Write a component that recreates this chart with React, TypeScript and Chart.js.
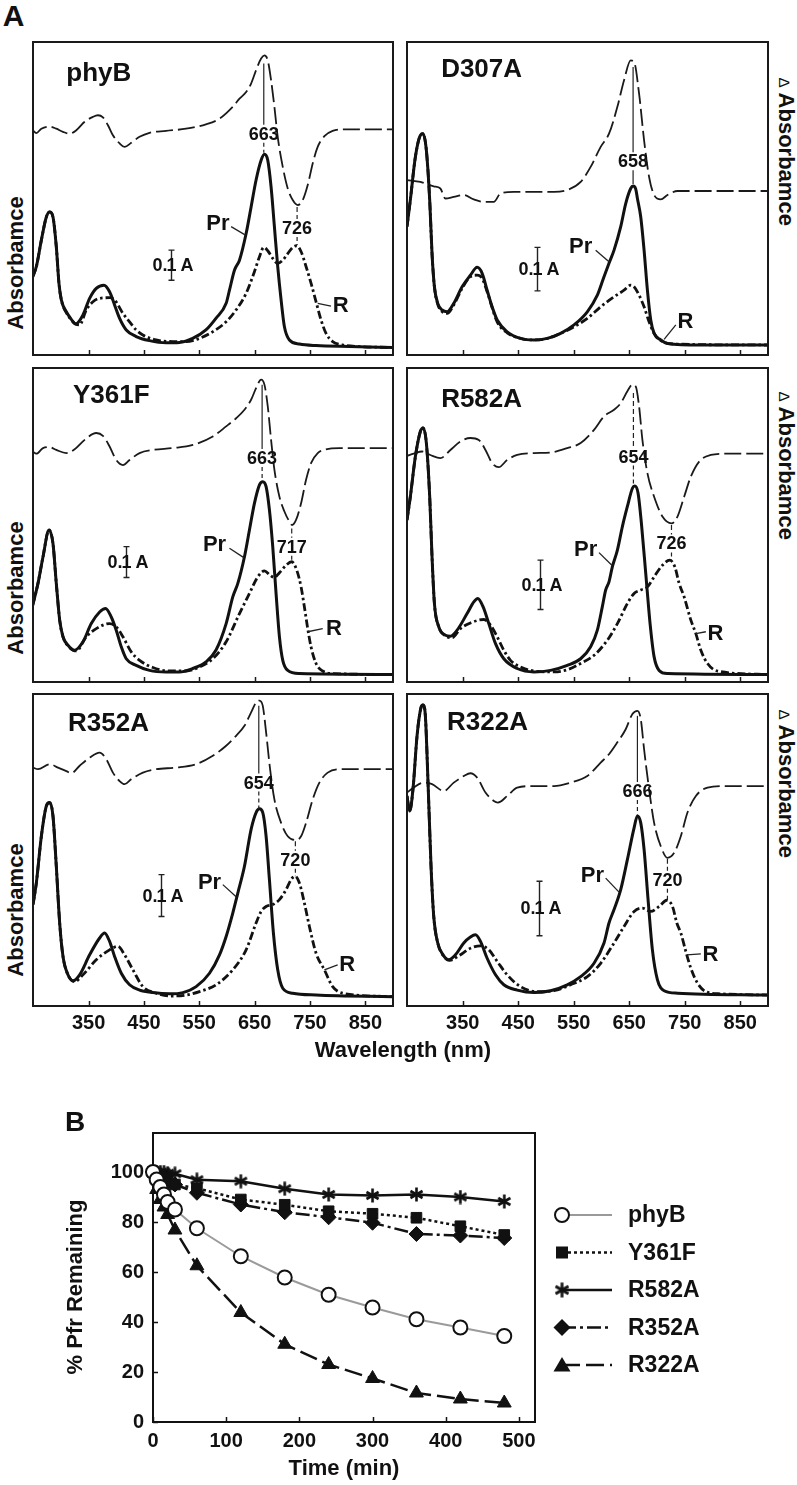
import React, { useEffect, useRef } from 'react';
import { Chart, registerables } from 'chart.js';

Chart.register(...registerables);

const FONT = '"Liberation Sans", Arial, Helvetica, sans-serif';
const INK = '#111';

type Pt = [number, number];

// ================= Panel A : spectra (y = relative absorbance, % of panel height) =================
const WL_TICKS = [350, 450, 550, 650, 750, 850];
const WL_MIN = 249.5;
const WL_MAX = 900;

const PHYB_PR: Pt[] = [[249,25.0],[255.5,28.2],[264.6,36.7],[273.6,44.1],[279.6,45.7],[285.6,44.1],[291.6,34.6],[296.4,22.9],[300.7,17.6],[309.7,13.8],[318.7,11.4],[326.5,9.9],[339.8,12.8],[351.8,18.1],[363.8,21.3],[377.7,22.3],[387.9,20.2],[396.9,16.0],[406,11.7],[418,8.0],[436,5.9],[460,4.6],[490,3.9],[514,4.0],[538,5.3],[562,8.0],[580,11.7],[598.5,16.5],[604.5,20.7],[613.5,27.1],[622.6,30.3],[634.6,38.8],[643.6,47.3],[652.6,55.9],[661.7,62.2],[667.7,64.1],[673.7,62.2],[679.7,53.7],[685.7,41.0],[691.7,28.2],[697.8,17.6],[703.8,9.0],[712.8,4.8],[731,3.5],[761,3.0],[821,2.7],[900,2.4]];
const PHYB_R: Pt[] = [[249,25.0],[255.5,28.2],[264.6,36.7],[273.6,44.1],[279.6,45.7],[285.6,44.1],[291.6,34.6],[296.4,22.9],[300.7,17.6],[309.7,13.5],[318.7,11.2],[326.5,9.9],[333.8,9.6],[345.8,14.4],[357.8,17.0],[369.9,18.1],[387.9,18.3],[396.9,17.6],[412,13.3],[424,10.6],[436,8.0],[448,6.4],[472,4.8],[502,4.3],[526,4.3],[550,5.3],[574,7.4],[598.5,10.6],[616.5,14.4],[634.6,19.7],[649.6,26.6],[658.7,31.4],[666.5,34.4],[673.7,33.3],[682.7,30.9],[691.7,29.3],[700.8,30.3],[709.8,32.4],[718.8,34.4],[726,34.9],[734,33.0],[743,28.2],[752,22.9],[761,17.0],[770,11.2],[779,6.9],[791,4.3],[809,3.2],[839,2.7],[900,2.4]];
const PHYB_DIFF: Pt[] = [[249,71.8],[255.5,70.9],[264.6,72.3],[279.6,73.0],[291.6,72.3],[303.7,71.3],[315.7,70.7],[327.7,71.8],[342.8,74.5],[357.8,76.1],[366.8,76.6],[375.9,75.9],[384.9,73.4],[393.9,70.2],[406,67.6],[415,66.5],[427,67.8],[442,69.7],[460,71.0],[490,71.6],[526,72.3],[562,73.7],[586.5,75.5],[610.5,79.3],[622.6,81.9],[634.6,84.0],[643.6,86.7],[652.6,91.0],[661.7,94.7],[667.7,95.7],[673.7,94.1],[679.7,87.8],[685.7,79.3],[691.7,69.7],[700.8,60.1],[709.8,53.2],[718.8,49.5],[727.9,47.9],[736.9,49.5],[745.9,54.3],[754.9,61.2],[763.9,66.5],[776,69.9],[791,71.6],[815,72.1],[900,72.1]];

const D307A_PR: Pt[] = [[249.5,41.0],[255.5,49.5],[264.6,63.3],[273.6,70.2],[278.4,70.7],[284.4,65.4],[290.4,49.5],[294.6,32.4],[298.9,21.8],[304.9,16.5],[312.7,14.4],[321.7,13.8],[333.8,16.5],[348.8,21.8],[363.8,25.5],[375.9,28.0],[384.9,26.1],[393.9,20.7],[402.9,15.4],[412,11.2],[430,7.4],[454.1,5.3],[478.2,4.8],[502.2,5.3],[526.3,6.9],[550.4,9.6],[574.4,13.8],[592.5,19.1],[604.5,25.0],[613.5,29.3],[622.6,33.5],[634.6,41.0],[643.6,48.4],[652.6,53.2],[656.9,54.0],[661.7,53.0],[664.7,50.0],[670.7,44.1],[676.7,33.5],[682.7,20.7],[688.7,11.2],[694.8,6.9],[706.8,4.8],[718.8,3.7],[779,3.2],[900,3.2]];
const D307A_R: Pt[] = [[249.5,41.0],[255.5,49.5],[264.6,63.3],[273.6,70.2],[278.4,70.7],[284.4,65.4],[290.4,49.5],[294.6,32.4],[298.9,21.8],[304.9,16.2],[312.7,13.9],[321.7,13.3],[333.8,16.0],[348.8,21.3],[363.8,25.0],[375.9,25.5],[384.9,24.5],[393.9,20.2],[412,10.6],[430,7.1],[454.1,5.3],[478.2,4.8],[502.2,5.3],[526.3,6.9],[550.4,9.0],[574.4,11.7],[598.5,15.4],[622.6,18.6],[640.6,20.7],[652.6,22.3],[658.7,21.8],[667.7,19.1],[676.7,15.4],[685.7,10.6],[694.8,6.9],[706.8,4.6],[731,3.5],[900,3.2]];
const D307A_DIFF: Pt[] = [[249.5,55.9],[273.6,55.3],[297.7,53.9],[309.7,53.2],[318.7,50.0],[333.8,50.5],[351.8,51.1],[369.9,49.7],[387.9,48.9],[406,48.9],[418,51.6],[442.1,52.1],[478.2,52.1],[514.3,52.1],[538.3,52.7],[562.4,55.3],[580.4,60.1],[598.5,66.5],[613.5,70.7],[628.6,79.3],[640.6,87.8],[652.6,94.1],[658.7,93.6],[667.7,83.5],[676.7,68.6],[685.7,56.9],[694.8,51.1],[706.8,49.7],[718.8,51.1],[736.9,52.4],[900,52.4]];

const Y361F_PR: Pt[] = [[249,24.5],[258.5,31.4],[267.6,39.9],[278.4,48.4],[285.6,44.1],[291.6,31.4],[297.7,19.7],[303.7,14.4],[312.7,11.7],[324.7,10.1],[339.8,12.8],[354.8,18.6],[369.9,22.3],[380.7,23.4],[390.9,20.7],[399.9,16.5],[409,11.2],[418,7.4],[436,5.3],[460,3.7],[490,3.2],[514,3.2],[538,4.3],[562,6.4],[580,10.1],[598.5,18.6],[610.5,27.1],[619.6,31.4],[631.6,39.9],[640.6,48.4],[649.6,56.9],[658.7,62.8],[664.7,63.8],[670.7,62.2],[676.7,54.8],[682.7,43.1],[688.7,28.2],[694.8,14.4],[700.8,6.9],[709.8,3.7],[731,2.7],[900,2.4]];
const Y361F_R: Pt[] = [[249,24.5],[258.5,31.4],[267.6,39.9],[278.4,48.4],[285.6,44.1],[291.6,31.4],[297.7,19.7],[303.7,14.4],[312.7,11.5],[327.7,9.9],[345.8,14.4],[363.8,17.0],[387.9,18.6],[399.9,17.6],[412,14.4],[427,9.6],[442.1,6.9],[466.1,4.6],[496.2,3.5],[526.3,3.5],[550.4,4.8],[574.4,7.4],[598.5,12.8],[622.6,21.8],[640.6,28.2],[655.7,33.5],[667.7,35.4],[677.9,34.0],[685.7,33.3],[694.8,34.8],[706.8,37.2],[717,38.3],[726.1,35.6],[733.9,30.3],[739.9,23.9],[745.9,17.0],[751.9,11.2],[761,5.9],[773,3.5],[791,2.7],[900,2.4]];
const Y361F_DIFF: Pt[] = [[249,73.4],[255.5,72.7],[267.6,74.5],[279.6,74.8],[291.6,73.9],[309.7,72.9],[324.7,74.1],[342.8,77.1],[363.8,79.3],[375.9,78.4],[387.9,75.0],[399.9,70.7],[412,69.1],[424,70.7],[442.1,72.9],[466.1,73.9],[502.2,74.5],[538.3,75.5],[574.4,78.2],[598.5,81.4],[616.5,84.0],[631.6,86.7],[643.6,89.9],[652.6,93.6],[661.7,96.3],[667.7,94.7],[673.7,87.8],[679.7,77.1],[685.7,67.6],[694.8,59.0],[703.8,54.3],[712.8,51.1],[717.6,50.0],[724.8,51.6],[733.9,56.9],[742.9,64.4],[751.9,69.7],[764,72.9],[779,74.1],[803.1,74.5],[900,74.5]];

const R582A_PR: Pt[] = [[249.5,51.6],[255.5,59.0],[264.6,71.8],[273.6,79.8],[278.4,80.9],[284.4,76.1],[290.4,59.0],[294.6,39.9],[298.9,25.0],[306.7,17.6],[318.7,14.9],[327.7,14.6],[339.8,16.5],[357.8,21.8],[369.9,25.5],[377.1,26.6],[386.7,23.9],[396.9,18.6],[409,12.2],[424,7.4],[448.1,4.3],[478.2,3.2],[508.2,3.7],[538.3,5.3],[562.4,7.4],[580.4,11.2],[592.5,16.5],[601.5,24.0],[607.5,29.3],[613.5,31.9],[619.5,36.7],[628.6,42.0],[637.6,49.5],[646.6,55.9],[655.7,61.7],[659.9,62.4],[665.9,60.1],[671.9,50.5],[679.7,34.6],[687.5,18.6],[694.8,8.0],[703.8,3.7],[718.8,2.7],[900,2.4]];
const R582A_R: Pt[] = [[249.5,51.6],[255.5,59.0],[264.6,71.8],[273.6,79.8],[278.4,80.9],[284.4,76.1],[290.4,59.0],[294.6,39.9],[298.9,25.0],[306.7,17.6],[318.7,14.7],[330.7,14.1],[345.8,17.0],[363.8,18.8],[387.9,19.9],[399.9,18.1],[412,14.4],[424,10.1],[436,6.9],[454.1,4.8],[478.2,3.5],[514.3,3.2],[538.3,3.9],[562.4,5.9],[586.5,8.5],[610.5,13.3],[628.6,18.6],[646.6,25.0],[658.7,28.2],[670.7,29.3],[682.7,30.3],[694.8,33.5],[709.8,37.2],[723,38.8],[732.1,36.7],[739.9,31.4],[748.9,27.1],[761,19.7],[770,15.4],[779,10.1],[791,5.9],[809.1,3.5],[900,2.4]];
const R582A_DIFF: Pt[] = [[249.5,72.0],[261.6,72.7],[276.6,73.4],[291.6,72.3],[309.7,71.3],[327.7,73.9],[345.8,76.6],[363.8,77.7],[378.9,77.1],[390.9,73.9],[402.9,69.7],[415,68.4],[430,70.7],[448.1,72.3],[478.2,72.9],[508.2,73.1],[538.3,74.5],[562.4,76.1],[586.5,80.3],[604.5,84.6],[622.6,86.7],[634.6,88.8],[646.6,92.6],[655.7,94.7],[661.7,94.1],[667.7,87.8],[673.7,77.1],[682.7,66.5],[694.8,59.0],[709.8,52.7],[726.1,50.5],[736.9,52.7],[748.9,59.0],[761,65.4],[776,70.2],[797,72.3],[821,72.7],[900,72.7]];

const R352A_PR: Pt[] = [[249.5,32.5],[255.5,39.4],[264.6,54.4],[273.6,64.1],[279.6,65.2],[285.6,60.9],[291.6,44.8],[297.7,26.6],[303.7,15.9],[312.7,10.0],[321.7,8.1],[333.8,10.0],[351.8,16.4],[369.9,21.8],[378.9,23.4],[387.9,20.7],[396.9,15.9],[409,10.5],[424,6.8],[442.1,5.1],[466.1,4.3],[496.2,3.9],[520.3,4.3],[544.3,6.2],[568.4,10.5],[586.5,16.4],[598.5,22.3],[610.5,29.8],[619.6,36.2],[631.6,44.8],[643.6,56.6],[652.6,62.0],[658.7,63.2],[664.7,62.0],[670.7,54.4],[676.7,40.5],[683.9,23.4],[691.7,11.6],[700.8,5.7],[718.8,4.1],[761,3.5],[900,3.0]];
const R352A_R: Pt[] = [[249.5,32.5],[255.5,39.4],[264.6,54.4],[273.6,64.1],[279.6,65.2],[285.6,60.9],[291.6,44.8],[297.7,26.6],[303.7,15.9],[312.7,10.0],[324.7,7.8],[339.8,10.0],[363.8,14.8],[387.9,18.0],[402.9,19.1],[415,16.4],[430,11.6],[448.1,6.2],[472.1,4.1],[496.2,3.2],[526.3,3.5],[550.4,4.6],[580.4,6.8],[610.5,11.6],[634.6,18.0],[652.6,26.6],[661.7,30.3],[670.7,31.9],[682.7,32.5],[694.8,34.1],[706.8,37.3],[715.8,40.5],[723,41.6],[730.9,39.4],[739.9,33.0],[748.9,25.5],[761,16.9],[776,11.6],[791,6.2],[809.1,4.1],[900,3.0]];
const R352A_DIFF: Pt[] = [[249.5,76.4],[258.5,75.9],[279.6,77.5],[294.6,76.4],[309.7,75.3],[318.7,74.6],[333.8,77.0],[351.8,79.6],[369.9,81.2],[381.9,79.1],[393.9,74.8],[406,72.1],[415,71.1],[427,72.7],[448.1,74.8],[472.1,75.9],[508.2,76.4],[544.3,77.5],[574.4,80.2],[598.5,83.4],[616.5,86.6],[631.6,89.8],[643.6,94.1],[652.6,97.3],[658.7,97.9],[664.7,96.2],[670.7,87.7],[677.9,75.9],[685.7,66.2],[697.8,58.7],[709.8,54.4],[723.6,53.2],[733.9,54.4],[742.9,58.7],[754.9,66.2],[767,71.6],[782,74.8],[803.1,75.9],[900,75.9]];

const R322A_PR: Pt[] = [[249.5,67.3],[254.3,62.5],[260.3,69.5],[267.6,86.6],[274.8,95.7],[278.4,96.5],[282.6,93.0],[287.4,71.6],[292.8,44.8],[297.7,28.7],[304.9,20.2],[314.5,16.4],[324.7,14.8],[336.8,16.4],[351.8,20.2],[363.8,22.1],[372.9,22.8],[381.9,20.7],[393.9,15.3],[409,10.0],[424,6.8],[448.1,5.1],[478.2,4.3],[508.2,4.9],[538.3,6.8],[562.4,9.4],[586.5,13.7],[604.5,20.2],[613.5,26.6],[622.6,30.9],[634.6,37.3],[646.6,46.9],[658.7,57.1],[664.7,60.9],[670.7,58.7],[676.7,50.2],[683.9,34.1],[691.7,18.0],[700.8,8.4],[712.8,4.9],[736.9,4.1],[900,3.5]];
const R322A_R: Pt[] = [[249.5,67.3],[254.3,62.5],[260.3,69.5],[267.6,86.6],[274.8,95.7],[278.4,96.5],[282.6,93.0],[287.4,71.6],[292.8,44.8],[297.7,28.7],[304.9,20.2],[314.5,16.2],[326.5,14.6],[342.8,16.1],[363.8,18.5],[381.9,19.3],[396.9,18.0],[412,14.3],[430,10.0],[454.1,6.2],[484.2,4.6],[514.3,4.9],[544.3,6.8],[574.4,9.4],[598.5,13.7],[622.6,20.2],[640.6,25.5],[658.7,30.3],[673.7,31.4],[688.7,30.3],[703.8,31.9],[717.6,33.9],[727.9,31.9],[735.7,26.6],[742.9,23.4],[751.9,17.5],[761,12.1],[773,7.3],[788,4.6],[815.1,3.9],[900,3.5]];
const R322A_DIFF: Pt[] = [[249.5,68.4],[261.6,70.0],[279.6,71.6],[294.6,71.1],[315.7,68.9],[333.8,71.6],[351.8,73.7],[363.8,74.6],[375.9,73.2],[390.9,68.4],[406,65.7],[413.2,65.2],[430,67.3],[448.1,70.0],[478.2,70.5],[514.3,70.5],[544.3,71.6],[574.4,73.7],[598.5,78.0],[613.5,80.7],[628.6,84.5],[643.6,88.7],[655.7,93.6],[664.7,94.6],[670.7,92.0],[676.7,82.3],[685.7,69.5],[694.8,58.7],[706.8,51.2],[718.8,47.5],[730.9,49.1],[742.9,54.4],[754.9,62.0],[770,67.3],[791,70.0],[821,70.5],[900,70.5]];

// annotations (data coordinates: wavelength, relative absorbance)
const PHYB_ANN = { name: 'phyB', nameAt: [309.7, 89.9], peak: { x: 666.5, top: 93.1, at: 70.7, bottom: 64.6, text: '663', upperDash: false, lowerDash: true }, trough: { x: 726.7, top: 47.3, at: 40.6, bottom: 35.1, text: '726' }, prAt: [604.5, 42.0], prLine: [[607.5, 41.0], [633.4, 38.3]], rAt: [791, 15.6], rLine: [[764, 16.5], [788, 15.6]], bar: { x: 498, y1: 33.5, y2: 23.9 } };
const D307A_ANN = { name: 'D307A', nameAt: [311, 91.0], peak: { x: 656.9, top: 92.0, at: 61.9, bottom: 54.6, text: '658', upperDash: false, lowerDash: false }, trough: null, prAt: [583.5, 34.6], prLine: [[589.5, 33.5], [613.5, 29.8]], rAt: [736.9, 10.6], rLine: [[712.8, 5.0], [733.9, 9.6]], bar: { x: 483, y1: 34.4, y2: 20.5 } };
const Y361F_ANN = { name: 'Y361F', nameAt: [321.7, 91.0], peak: { x: 663.5, top: 94.7, at: 71.3, bottom: 64.1, text: '663', upperDash: false, lowerDash: true }, trough: { x: 717, top: 48.9, at: 43.1, bottom: 38.6, text: '717' }, prAt: [598.5, 43.6], prLine: [[604.5, 42.6], [630.4, 39.6]], rAt: [779, 17.0], rLine: [[745.9, 16.0], [773, 17.0]], bar: { x: 416.8, y1: 43.1, y2: 33.3 } };
const R582A_ANN = { name: 'R582A', nameAt: [311, 89.9], peak: { x: 657.5, top: 92.0, at: 71.8, bottom: 62.8, text: '654', upperDash: true, lowerDash: true }, trough: { x: 726.1, top: 50.0, at: 44.1, bottom: 39.0, text: '726' }, prAt: [592.5, 42.0], prLine: [[595.5, 41.2], [619.5, 37.0]], rAt: [791, 15.4], rLine: [[770, 15.4], [788, 16.0]], bar: { x: 489, y1: 38.8, y2: 23.1 } };
const R352A_ANN = { name: 'R352A', nameAt: [312.7, 90.4], peak: { x: 657.5, top: 96.2, at: 71.6, bottom: 63.2, text: '654', upperDash: false, lowerDash: true }, trough: { x: 723.6, top: 52.8, at: 46.9, bottom: 41.6, text: '720' }, prAt: [589.5, 39.4], prLine: [[592.5, 38.9], [616.5, 35.0]], rAt: [803.1, 13.2], rLine: [[776, 11.6], [800, 13.2]], bar: { x: 481.2, y1: 42.1, y2: 28.7 } };
const R322A_ANN = { name: 'R322A', nameAt: [321.7, 90.9], peak: { x: 664.7, top: 93.0, at: 68.9, bottom: 61.4, text: '666', upperDash: false, lowerDash: true }, trough: { x: 718.8, top: 47.2, at: 40.5, bottom: 33.9, text: '720' }, prAt: [604.5, 41.6], prLine: [[607.5, 41.0], [631.6, 36.5]], rAt: [782, 16.4], rLine: [[753.7, 16.4], [779, 16.7]], bar: { x: 487.2, y1: 40.0, y2: 22.5 } };

const PANELS = [
  { key: 'phyB', box: { l: 33, t: 42, r: 393, b: 355 }, pr: PHYB_PR, rr: PHYB_R, diff: PHYB_DIFF, ann: PHYB_ANN, labels: false },
  { key: 'D307A', box: { l: 407, t: 42, r: 768, b: 355 }, pr: D307A_PR, rr: D307A_R, diff: D307A_DIFF, ann: D307A_ANN, labels: false },
  { key: 'Y361F', box: { l: 33, t: 368, r: 393, b: 682 }, pr: Y361F_PR, rr: Y361F_R, diff: Y361F_DIFF, ann: Y361F_ANN, labels: false },
  { key: 'R582A', box: { l: 407, t: 368, r: 768, b: 682 }, pr: R582A_PR, rr: R582A_R, diff: R582A_DIFF, ann: R582A_ANN, labels: false },
  { key: 'R352A', box: { l: 33, t: 694, r: 393, b: 1006 }, pr: R352A_PR, rr: R352A_R, diff: R352A_DIFF, ann: R352A_ANN, labels: true },
  { key: 'R322A', box: { l: 407, t: 694, r: 768, b: 1006 }, pr: R322A_PR, rr: R322A_R, diff: R322A_DIFF, ann: R322A_ANN, labels: true },
];

// ================= Panel B : Pfr dark reversion =================
const TIME_MIN = [0, 5, 10, 15, 20, 30, 60, 120, 180, 240, 300, 360, 420, 480];
const PHYB_PFR = [100, 97, 94, 91, 88, 85, 77.5, 66.3, 57.8, 50.9, 45.8, 41.1, 37.8, 34.4];
const Y361F_PFR = [100, 99, 98, 97, 96, 95, 93.5, 89, 86.9, 84.3, 83.3, 81.7, 78.3, 74.8];
const R582A_PFR = [100, 100, 100, 100, 99.5, 99.3, 96.9, 96.3, 93.3, 91, 90.6, 91, 90, 88.2];
const R352A_PFR = [100, 99, 98, 97, 96, 95, 91.7, 87, 83.9, 81.9, 79.7, 75.2, 74.6, 73.6];
const R322A_PFR = [100, 93, 89, 86, 83, 76.8, 62.5, 43.8, 31.1, 23, 17.4, 11.6, 9.2, 7.6];
const TIME_TICKS = [0, 100, 200, 300, 400, 500];
const PFR_TICKS = [0, 20, 40, 60, 80, 100];
const SERIES_NAMES = ['phyB', 'Y361F', 'R582A', 'R352A', 'R322A'];

const toXY = (pts: Pt[]) => pts.map(([x, y]) => ({ x, y }));

function makePanelPlugin(ann: any, showLabels: boolean) {
  return {
    id: 'panelDeco',
    afterDatasetsDraw(chart: any) {
      const { ctx, chartArea: ca } = chart;
      const xs = chart.scales.x;
      const ys = chart.scales.y;
      const X = (v: number) => xs.getPixelForValue(v);
      const Y = (v: number) => ys.getPixelForValue(v);
      ctx.save();
      ctx.setLineDash([]);
      ctx.strokeStyle = '#1a1a1a';
      ctx.lineWidth = 2;
      ctx.strokeRect(ca.left, ca.top, ca.right - ca.left, ca.bottom - ca.top);
      ctx.lineWidth = 1.5;
      for (const t of WL_TICKS) {
        const px = Math.round(X(t)) + 0.5;
        ctx.beginPath();
        ctx.moveTo(px, ca.bottom);
        ctx.lineTo(px, ca.bottom - 5);
        ctx.stroke();
      }
      ctx.fillStyle = INK;
      if (showLabels) {
        ctx.font = `bold 20px ${FONT}`;
        ctx.textAlign = 'center';
        ctx.textBaseline = 'middle';
        for (const t of WL_TICKS) ctx.fillText(String(t), X(t), ca.bottom + 17);
      }
      // sample name
      ctx.font = `bold 26px ${FONT}`;
      ctx.textAlign = 'left';
      ctx.textBaseline = 'middle';
      ctx.fillText(ann.name, X(ann.nameAt[0]), Y(ann.nameAt[1]));

      const seg = (x: number, y1: number, y2: number, dash: number[]) => {
        if (y2 <= y1) return;
        ctx.setLineDash(dash);
        ctx.beginPath();
        ctx.moveTo(x, y1);
        ctx.lineTo(x, y2);
        ctx.stroke();
      };
      const marker = (m: any, upperDash: boolean, lowerDash: boolean) => {
        const px = X(m.x);
        const ly = Y(m.at);
        ctx.strokeStyle = '#222';
        ctx.lineWidth = 1.2;
        seg(px, Y(m.top), ly - 9, upperDash ? [5, 3] : []);
        seg(px, ly + 9, Y(m.bottom), lowerDash ? [4, 3] : []);
        ctx.setLineDash([]);
        ctx.font = `bold 18px ${FONT}`;
        ctx.textAlign = 'center';
        ctx.textBaseline = 'middle';
        ctx.fillText(m.text, px, ly + 1);
      };
      marker(ann.peak, ann.peak.upperDash, ann.peak.lowerDash);
      if (ann.trough) marker(ann.trough, true, true);

      // Pr / R labels with leader lines
      ctx.setLineDash([]);
      ctx.lineWidth = 1.3;
      ctx.strokeStyle = '#222';
      const leader = (l: number[][]) => {
        ctx.beginPath();
        ctx.moveTo(X(l[0][0]), Y(l[0][1]));
        ctx.lineTo(X(l[1][0]), Y(l[1][1]));
        ctx.stroke();
      };
      leader(ann.prLine);
      leader(ann.rLine);
      ctx.font = `bold 22px ${FONT}`;
      ctx.textBaseline = 'middle';
      ctx.textAlign = 'right';
      ctx.fillText('Pr', X(ann.prAt[0]), Y(ann.prAt[1]));
      ctx.textAlign = 'left';
      ctx.fillText('R', X(ann.rAt[0]), Y(ann.rAt[1]));

      // 0.1 A scale bar
      const bx = Math.round(X(ann.bar.x)) + 0.5;
      const b1 = Y(ann.bar.y1);
      const b2 = Y(ann.bar.y2);
      ctx.lineWidth = 1.4;
      ctx.beginPath();
      ctx.moveTo(bx, b1); ctx.lineTo(bx, b2);
      ctx.moveTo(bx - 3, b1); ctx.lineTo(bx + 3, b1);
      ctx.moveTo(bx - 3, b2); ctx.lineTo(bx + 3, b2);
      ctx.stroke();
      const my = (b1 + b2) / 2;
      ctx.font = `bold 18px ${FONT}`;
      ctx.textBaseline = 'middle';
      ctx.textAlign = 'right';
      ctx.fillText('0.', bx - 4, my + 1);
      ctx.textAlign = 'center';
      ctx.fillText('1', bx, my + 1);
      ctx.textAlign = 'left';
      ctx.fillText('A', bx + 9, my + 1);
      ctx.restore();
    },
  };
}

function SpectrumPanel({ cfg }: { cfg: any }) {
  const ref = useRef<HTMLCanvasElement>(null);
  const M = 4;
  const extra = cfg.labels ? 32 : 0;
  const w = cfg.box.r - cfg.box.l + 2 * M;
  const h = cfg.box.b - cfg.box.t + 2 * M + extra;
  useEffect(() => {
    const chart = new Chart(ref.current as HTMLCanvasElement, {
      type: 'line',
      data: {
        datasets: [
          { label: 'Pr', data: toXY(cfg.pr), borderColor: INK, borderWidth: 3, pointRadius: 0, cubicInterpolationMode: 'monotone', fill: false, order: 0 },
          { label: 'R', data: toXY(cfg.rr), borderColor: INK, borderWidth: 2.8, borderDash: [8, 3, 2.5, 3], pointRadius: 0, cubicInterpolationMode: 'monotone', fill: false, order: 1 },
          { label: 'ΔA', data: toXY(cfg.diff), borderColor: '#1a1a1a', borderWidth: 1.8, borderDash: [17, 5], pointRadius: 0, cubicInterpolationMode: 'monotone', fill: false, order: 2 },
        ],
      } as any,
      options: {
        animation: false,
        responsive: false,
        devicePixelRatio: 1,
        events: [],
        layout: { padding: { left: M, right: M, top: M, bottom: M + extra } },
        plugins: { legend: { display: false }, tooltip: { enabled: false } },
        scales: {
          x: { type: 'linear', min: WL_MIN, max: WL_MAX, display: false },
          y: { type: 'linear', min: 0, max: 100, display: false },
        },
      } as any,
      plugins: [makePanelPlugin(cfg.ann, cfg.labels)],
    });
    return () => chart.destroy();
  }, []);
  return (
    <canvas
      ref={ref}
      width={w}
      height={h}
      style={{ position: 'absolute', left: cfg.box.l - M, top: cfg.box.t - M, width: w, height: h }}
    />
  );
}

function makeAsterisk(size: number, lw: number) {
  const c = document.createElement('canvas');
  c.width = size;
  c.height = size;
  const g = c.getContext('2d') as CanvasRenderingContext2D;
  g.strokeStyle = INK;
  g.lineWidth = lw;
  const r = size / 2 - 0.5;
  const cx = size / 2;
  for (const a of [90, 30, 150]) {
    const rad = (a * Math.PI) / 180;
    g.beginPath();
    g.moveTo(cx + r * Math.cos(rad), cx - r * Math.sin(rad));
    g.lineTo(cx - r * Math.cos(rad), cx + r * Math.sin(rad));
    g.stroke();
  }
  return c;
}

const B_CANVAS = { left: 0, top: 1095, width: 797, height: 390 };
const B_AREA = { left: 153, right: 535, top: 1133, bottom: 1422 };

function DecayChart() {
  const ref = useRef<HTMLCanvasElement>(null);
  useEffect(() => {
    const star = makeAsterisk(15, 2.6);
    const mk = (vals: number[]) => TIME_MIN.map((t, i) => ({ x: t, y: vals[i] }));
    const bPlugin = {
      id: 'bDeco',
      beforeDatasetsDraw(chart: any) {
        const { ctx, chartArea: ca } = chart;
        const xs = chart.scales.x;
        const ys = chart.scales.y;
        ctx.save();
        ctx.strokeStyle = '#111';
        ctx.lineWidth = 2;
        ctx.setLineDash([]);
        ctx.strokeRect(ca.left, ca.top, ca.right - ca.left, ca.bottom - ca.top);
        ctx.lineWidth = 1.5;
        for (const t of TIME_TICKS) {
          const px = Math.round(xs.getPixelForValue(t)) + 0.5;
          ctx.beginPath(); ctx.moveTo(px, ca.bottom); ctx.lineTo(px, ca.bottom - 5); ctx.stroke();
        }
        for (const v of PFR_TICKS) {
          const py = Math.round(ys.getPixelForValue(v)) + 0.5;
          ctx.beginPath(); ctx.moveTo(ca.left, py); ctx.lineTo(ca.left + 5, py); ctx.stroke();
        }
        ctx.restore();
      },
      afterDraw(chart: any) {
        const { ctx } = chart;
        ctx.save();
        ctx.fillStyle = INK;
        ctx.font = `bold 22px ${FONT}`;
        ctx.textAlign = 'center';
        ctx.textBaseline = 'middle';
        ctx.fillText('Time (min)', 344, 1469 - B_CANVAS.top);
        ctx.save();
        ctx.translate(76, 1287 - B_CANVAS.top);
        ctx.rotate(-Math.PI / 2);
        ctx.fillText('% Pfr Remaining', 0, 0);
        ctx.restore();
        // legend
        const ds = chart.data.datasets;
        for (let i = 0; i < ds.length; i++) {
          const d = ds[i];
          const y = 1215 + i * 37.5 - B_CANVAS.top;
          const mx = 562;
          ctx.strokeStyle = d.borderColor;
          ctx.lineWidth = d.borderWidth;
          ctx.setLineDash(d.borderDash || []);
          ctx.beginPath();
          ctx.moveTo(mx, y);
          ctx.lineTo(612, y);
          ctx.stroke();
          ctx.setLineDash([]);
          ctx.fillStyle = INK;
          ctx.strokeStyle = INK;
          const st = d.pointStyle;
          if (st === 'circle') {
            ctx.beginPath(); ctx.arc(mx, y, 7, 0, Math.PI * 2);
            ctx.fillStyle = '#fff'; ctx.fill(); ctx.lineWidth = 2; ctx.stroke();
          } else if (st === 'rect') {
            ctx.fillRect(mx - 6, y - 6, 12, 12);
          } else if (st === 'rectRot') {
            ctx.beginPath(); ctx.moveTo(mx, y - 8.5); ctx.lineTo(mx + 8.5, y); ctx.lineTo(mx, y + 8.5); ctx.lineTo(mx - 8.5, y); ctx.closePath(); ctx.fill();
          } else if (st === 'triangle') {
            ctx.beginPath(); ctx.moveTo(mx, y - 8); ctx.lineTo(mx + 8.5, y + 6.5); ctx.lineTo(mx - 8.5, y + 6.5); ctx.closePath(); ctx.fill();
          } else {
            ctx.drawImage(star, mx - 8, y - 8, 16, 16);
          }
          ctx.fillStyle = INK;
          ctx.font = `bold 23px ${FONT}`;
          ctx.textAlign = 'left';
          ctx.textBaseline = 'middle';
          ctx.fillText(d.label, 628, y + 1);
        }
        ctx.restore();
      },
    };
    const chart = new Chart(ref.current as HTMLCanvasElement, {
      type: 'line',
      data: {
        datasets: [
          { label: SERIES_NAMES[0], data: mk(PHYB_PFR), borderColor: '#9a9a9a', borderWidth: 2, pointStyle: 'circle', pointRadius: 7, pointBackgroundColor: '#fff', pointBorderColor: INK, pointBorderWidth: 2, tension: 0, clip: false },
          { label: SERIES_NAMES[1], data: mk(Y361F_PFR), borderColor: INK, borderWidth: 2.5, borderDash: [3, 3], pointStyle: 'rect', pointRadius: 7.5, pointBackgroundColor: INK, pointBorderColor: INK, pointBorderWidth: 1, tension: 0, clip: false },
          { label: SERIES_NAMES[2], data: mk(R582A_PFR), borderColor: INK, borderWidth: 2.5, pointStyle: star, pointRadius: 7, tension: 0, clip: false },
          { label: SERIES_NAMES[3], data: mk(R352A_PFR), borderColor: INK, borderWidth: 2.5, borderDash: [14, 4, 3, 4], pointStyle: 'rectRot', pointRadius: 7.5, pointBackgroundColor: INK, pointBorderColor: INK, pointBorderWidth: 1, tension: 0, clip: false },
          { label: SERIES_NAMES[4], data: mk(R322A_PFR), borderColor: INK, borderWidth: 2.5, borderDash: [18, 6], pointStyle: 'triangle', pointRadius: 8, pointBackgroundColor: INK, pointBorderColor: INK, pointBorderWidth: 1, tension: 0, clip: false },
        ],
      } as any,
      options: {
        animation: false,
        responsive: false,
        devicePixelRatio: 1,
        events: [],
        layout: { padding: { left: 0, top: B_AREA.top - B_CANVAS.top, right: B_CANVAS.width - B_AREA.right, bottom: 0 } },
        plugins: { legend: { display: false }, tooltip: { enabled: false } },
        scales: {
          x: {
            type: 'linear', min: 0, max: 522,
            grid: { display: false, drawTicks: false },
            border: { display: false },
            ticks: { color: INK, font: { family: FONT, size: 20, weight: 'bold' }, padding: 7, maxRotation: 0 },
            afterBuildTicks: (s: any) => { s.ticks = TIME_TICKS.map((v) => ({ value: v })); },
            afterFit: (s: any) => { s.height = B_CANVAS.top + B_CANVAS.height - B_AREA.bottom; },
          },
          y: {
            type: 'linear', min: 0, max: 115.6,
            grid: { display: false, drawTicks: false },
            border: { display: false },
            ticks: { color: INK, font: { family: FONT, size: 20, weight: 'bold' }, padding: 9 },
            afterBuildTicks: (s: any) => { s.ticks = PFR_TICKS.map((v) => ({ value: v })); },
            afterFit: (s: any) => { s.width = B_AREA.left; },
          },
        },
      } as any,
      plugins: [bPlugin],
    });
    return () => chart.destroy();
  }, []);
  return (
    <canvas
      ref={ref}
      width={B_CANVAS.width}
      height={B_CANVAS.height}
      style={{ position: 'absolute', left: B_CANVAS.left, top: B_CANVAS.top, width: B_CANVAS.width, height: B_CANVAS.height }}
    />
  );
}

function Txt({ x, y, size, rot = 0, children }: any) {
  return (
    <div
      style={{
        position: 'absolute', left: x, top: y, fontSize: size, fontWeight: 'bold', lineHeight: 1,
        whiteSpace: 'nowrap', color: INK, fontFamily: FONT,
        transform: `translate(-50%, -50%) rotate(${rot}deg)`,
      }}
    >
      {children}
    </div>
  );
}

export default function App() {
  return (
    <div style={{ position: 'absolute', left: 0, top: 0, width: 797, height: 1485, background: '#fff', overflow: 'hidden' }}>
      {PANELS.map((p) => <SpectrumPanel key={p.key} cfg={p} />)}
      <DecayChart />
      <Txt x={13.5} y={16} size={30}>A</Txt>
      <Txt x={75} y={1122} size={28}>B</Txt>
      <Txt x={16} y={263} size={22} rot={-90}>Absorbamce</Txt>
      <Txt x={16} y={588} size={22} rot={-90}>Absorbamce</Txt>
      <Txt x={16} y={910} size={22} rot={-90}>Absorbamce</Txt>
      <Txt x={786} y={152} size={22} rot={90}><span style={{ fontWeight: 'normal', fontSize: 15 }}>∆</span> Absorbamce</Txt>
      <Txt x={786} y={466} size={22} rot={90}><span style={{ fontWeight: 'normal', fontSize: 15 }}>∆</span> Absorbamce</Txt>
      <Txt x={786} y={784} size={22} rot={90}><span style={{ fontWeight: 'normal', fontSize: 15 }}>∆</span> Absorbamce</Txt>
      <Txt x={403} y={1050} size={22}>Wavelength (nm)</Txt>
    </div>
  );
}
